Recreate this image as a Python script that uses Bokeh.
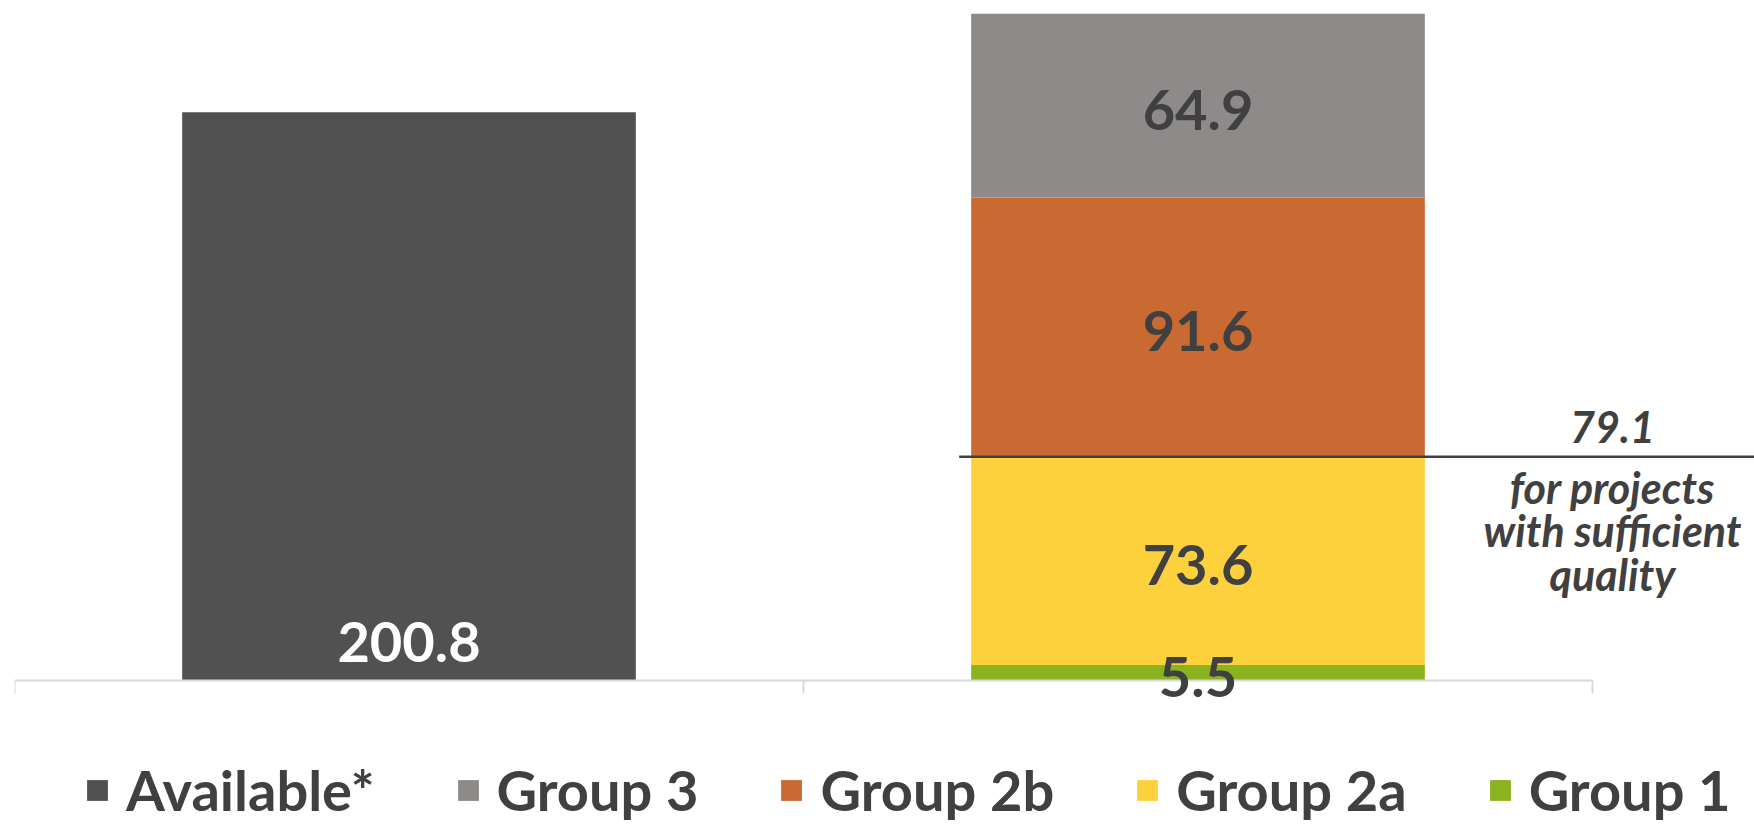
from bokeh.plotting import figure
from bokeh.models import Range1d, Legend, LegendItem, ColumnDataSource
from bokeh.core.properties import value
from bokeh.embed import file_html
from bokeh.resources import INLINE

# ---- data ----
categories = ["Available", "Projects"]
stack_keys = ["available", "group1", "group2a", "group2b", "group3"]
series_labels = ["Available*", "Group 1", "Group 2a", "Group 2b", "Group 3"]
available = [200.8, 0.0]
group1 = [0.0, 5.5]
group2a = [0.0, 73.6]
group2b = [0.0, 91.6]
group3 = [0.0, 64.9]
threshold = 79.1
threshold_lines = ["79.1", "for projects", "with sufficient", "quality"]
legend_order = ["Available*", "Group 3", "Group 2b", "Group 2a", "Group 1"]

# ---- styles ----
colors = ["#515151", "#8BB21F", "#FDD13C", "#C86A32", "#8E8A8A"]
text_color = "#404040"
FONT = "Lato"

W, H = 1754, 826
BORDER_L = 14
PX_X = 789.0           # px per category
PX_Y = 2.83            # px per unit
BASE_PX = 680          # baseline distance from frame top
frame_w = W - BORDER_L
x_end = frame_w / PX_X
y_top = BASE_PX / PX_Y
y_bot = -(H - BASE_PX) / PX_Y
n = len(categories)
bar_w = 0.575

p = figure(width=W, height=H, output_backend="svg", toolbar_location=None,
           x_range=Range1d(0, x_end), y_range=Range1d(y_bot, y_top),
           x_axis_location=None, y_axis_location=None,
           min_border_left=BORDER_L, min_border_right=0,
           min_border_top=0, min_border_bottom=0)
p.grid.visible = False
p.outline_line_color = None
p.background_fill_color = "white"
p.border_fill_color = "white"

xpos = [i + 0.5 for i in range(n)]
data = dict(x=xpos, available=available, group1=group1, group2a=group2a,
            group2b=group2b, group3=group3)
src = ColumnDataSource(data)
rends = p.vbar_stack(stack_keys, x="x", width=bar_w, source=src,
                     fill_color=colors, line_color=None)

# baseline + category boundary ticks
p.segment(x0=[0], y0=[0], x1=[n], y1=[0], line_color="#D9D9D9", line_width=2)
p.segment(x0=list(range(n + 1)), y0=[0] * (n + 1), x1=list(range(n + 1)),
          y1=[-13 / PX_Y] * (n + 1), line_color="#D9D9D9", line_width=2)

# threshold line
p.segment(x0=[xpos[1] - bar_w / 2 - 12 / PX_X], y0=[threshold],
          x1=[x_end], y1=[threshold], line_color="#404040", line_width=2.5)

# value labels
lx, ly, lt, lc = [], [], [], []
for i in range(n):
    bottom = 0.0
    for k, key in enumerate(stack_keys):
        v = data[key][i]
        if v > 0:
            lx.append(xpos[i])
            if key == "available":
                ly.append(39 / PX_Y)
                lc.append("white")
            else:
                ly.append(bottom + v / 2 - 4 / PX_Y)
                lc.append(text_color)
            lt.append(f"{v:.1f}")
        bottom += v
p.text(x=lx, y=ly, text=lt, text_color=lc, text_align="center",
       text_baseline="middle", text_font=value(FONT), text_font_style="bold",
       text_font_size="56px")

# threshold annotation
offs = [30, -31, -74, -118]
p.text(x=[n + 20 / PX_X] * len(threshold_lines),
       y=[threshold + o / PX_Y for o in offs], text=threshold_lines,
       text_color=text_color, text_align="center", text_baseline="middle",
       text_font=value(FONT), text_font_style="bold italic",
       text_font_size="43px")

# legend
rmap = dict(zip(series_labels, rends))
items = [LegendItem(label=name, renderers=[rmap[name]]) for name in legend_order]
legend = Legend(items=items, orientation="horizontal", location=(70, 3),
                glyph_width=26, glyph_height=26, label_standoff=16, spacing=80,
                padding=0, margin=0, border_line_color=None,
                background_fill_alpha=0, label_text_font=FONT,
                label_text_font_size="56px", label_text_font_style="bold",
                label_text_color=text_color)
p.add_layout(legend)

open("out.html", "w").write(file_html(p, INLINE))
